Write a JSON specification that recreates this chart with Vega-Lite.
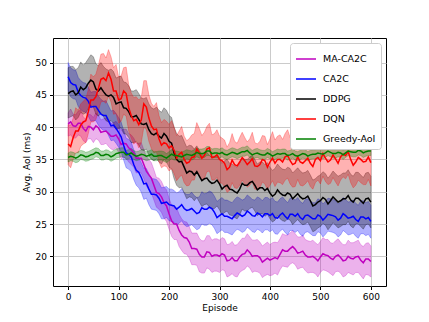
{
"$schema": "https://vega.github.io/schema/vega-lite/v6.json",
"width": 333, "height": 248,
"autosize": {"type": "none"},
"padding": {"left": 53, "top": 38, "right": 43, "bottom": 36},
"background": "white",
"config": {
  "font": "DejaVu Sans",
  "view": {"stroke": "black", "strokeWidth": 1},
  "axis": {"domain": false, "grid": true, "gridColor": "#cbcbcb", "gridWidth": 1, "tickColor": "black", "tickSize": 3.5, "tickWidth": 1, "labelFontSize": 9, "labelColor": "black", "labelPadding": 3, "titleFontSize": 9, "titleFontWeight": "normal", "titleColor": "black"},
  "legend": {"labelFontSize": 9, "labelColor": "black"}
},
"data": {"values": [
{"e":0,"s":"MA-CA2C","m":40.5,"lo":38.6,"hi":42.2},{"e":10,"s":"MA-CA2C","m":40.2,"lo":38.3,"hi":42.0},{"e":20,"s":"MA-CA2C","m":40.6,"lo":38.8,"hi":42.5},{"e":30,"s":"MA-CA2C","m":39.8,"lo":37.9,"hi":41.6},{"e":40,"s":"MA-CA2C","m":40.1,"lo":38.2,"hi":42.0},{"e":50,"s":"MA-CA2C","m":39.6,"lo":37.6,"hi":41.5},{"e":60,"s":"MA-CA2C","m":39.9,"lo":38.0,"hi":41.9},{"e":70,"s":"MA-CA2C","m":39.3,"lo":37.3,"hi":41.3},{"e":80,"s":"MA-CA2C","m":39.0,"lo":37.0,"hi":41.1},{"e":90,"s":"MA-CA2C","m":38.6,"lo":36.5,"hi":40.7},{"e":100,"s":"MA-CA2C","m":38.2,"lo":36.1,"hi":40.4},{"e":110,"s":"MA-CA2C","m":37.5,"lo":35.3,"hi":39.7},{"e":120,"s":"MA-CA2C","m":36.8,"lo":34.6,"hi":39.0},{"e":130,"s":"MA-CA2C","m":36.0,"lo":33.8,"hi":38.3},{"e":140,"s":"MA-CA2C","m":35.2,"lo":33.0,"hi":37.5},{"e":150,"s":"MA-CA2C","m":34.2,"lo":32.0,"hi":36.5},{"e":160,"s":"MA-CA2C","m":32.6,"lo":30.3,"hi":35.0},{"e":170,"s":"MA-CA2C","m":31.0,"lo":28.7,"hi":33.4},{"e":180,"s":"MA-CA2C","m":29.7,"lo":27.3,"hi":32.1},{"e":190,"s":"MA-CA2C","m":28.3,"lo":25.9,"hi":30.7},{"e":200,"s":"MA-CA2C","m":26.6,"lo":24.2,"hi":29.0},{"e":210,"s":"MA-CA2C","m":25.0,"lo":22.6,"hi":27.5},{"e":220,"s":"MA-CA2C","m":24.0,"lo":21.5,"hi":26.5},{"e":230,"s":"MA-CA2C","m":22.9,"lo":20.4,"hi":25.4},{"e":240,"s":"MA-CA2C","m":22.2,"lo":19.7,"hi":24.6},{"e":250,"s":"MA-CA2C","m":21.2,"lo":18.7,"hi":23.6},{"e":260,"s":"MA-CA2C","m":20.3,"lo":17.6,"hi":22.8},{"e":270,"s":"MA-CA2C","m":19.9,"lo":17.4,"hi":22.4},{"e":280,"s":"MA-CA2C","m":20.6,"lo":18.0,"hi":23.2},{"e":290,"s":"MA-CA2C","m":20.2,"lo":17.7,"hi":22.7},{"e":300,"s":"MA-CA2C","m":20.0,"lo":17.5,"hi":22.5},{"e":310,"s":"MA-CA2C","m":20.2,"lo":17.8,"hi":22.7},{"e":320,"s":"MA-CA2C","m":19.4,"lo":17.0,"hi":21.9},{"e":330,"s":"MA-CA2C","m":19.3,"lo":16.9,"hi":21.7},{"e":340,"s":"MA-CA2C","m":19.9,"lo":17.5,"hi":22.3},{"e":350,"s":"MA-CA2C","m":20.4,"lo":18.0,"hi":22.8},{"e":360,"s":"MA-CA2C","m":20.6,"lo":18.2,"hi":23.0},{"e":370,"s":"MA-CA2C","m":20.1,"lo":17.7,"hi":22.5},{"e":380,"s":"MA-CA2C","m":19.8,"lo":17.4,"hi":22.2},{"e":390,"s":"MA-CA2C","m":19.4,"lo":17.0,"hi":21.9},{"e":400,"s":"MA-CA2C","m":19.4,"lo":17.0,"hi":21.8},{"e":410,"s":"MA-CA2C","m":19.8,"lo":17.4,"hi":22.2},{"e":420,"s":"MA-CA2C","m":20.3,"lo":17.9,"hi":22.7},{"e":430,"s":"MA-CA2C","m":20.8,"lo":18.4,"hi":23.3},{"e":440,"s":"MA-CA2C","m":21.2,"lo":18.8,"hi":23.6},{"e":450,"s":"MA-CA2C","m":21.1,"lo":18.7,"hi":23.5},{"e":460,"s":"MA-CA2C","m":20.6,"lo":18.2,"hi":23.0},{"e":470,"s":"MA-CA2C","m":20.2,"lo":17.8,"hi":22.6},{"e":480,"s":"MA-CA2C","m":19.9,"lo":17.5,"hi":22.3},{"e":490,"s":"MA-CA2C","m":19.7,"lo":17.3,"hi":22.1},{"e":500,"s":"MA-CA2C","m":19.9,"lo":17.5,"hi":22.3},{"e":510,"s":"MA-CA2C","m":20.2,"lo":17.8,"hi":22.6},{"e":520,"s":"MA-CA2C","m":19.7,"lo":17.3,"hi":22.1},{"e":530,"s":"MA-CA2C","m":20.0,"lo":17.6,"hi":22.4},{"e":540,"s":"MA-CA2C","m":19.8,"lo":17.4,"hi":22.2},{"e":550,"s":"MA-CA2C","m":19.4,"lo":17.0,"hi":21.8},{"e":560,"s":"MA-CA2C","m":19.7,"lo":17.3,"hi":22.1},{"e":570,"s":"MA-CA2C","m":19.9,"lo":17.5,"hi":22.3},{"e":580,"s":"MA-CA2C","m":19.4,"lo":17.0,"hi":21.8},{"e":590,"s":"MA-CA2C","m":19.6,"lo":17.2,"hi":22.0},{"e":600,"s":"MA-CA2C","m":19.2,"lo":16.8,"hi":21.6},
{"e":5,"s":"MA-CA2C","m":40.8,"lo":38.8,"hi":42.8},{"e":15,"s":"MA-CA2C","m":40.1,"lo":38.3,"hi":41.9},{"e":25,"s":"MA-CA2C","m":40.6,"lo":38.6,"hi":42.6},{"e":35,"s":"MA-CA2C","m":39.4,"lo":37.6,"hi":41.2},{"e":45,"s":"MA-CA2C","m":40.0,"lo":38.2,"hi":41.9},{"e":55,"s":"MA-CA2C","m":40.2,"lo":38.2,"hi":42.2},{"e":65,"s":"MA-CA2C","m":39.2,"lo":37.3,"hi":41.1},{"e":75,"s":"MA-CA2C","m":39.4,"lo":37.5,"hi":41.4},{"e":85,"s":"MA-CA2C","m":38.6,"lo":36.6,"hi":40.6},{"e":95,"s":"MA-CA2C","m":38.8,"lo":36.8,"hi":40.9},{"e":105,"s":"MA-CA2C","m":37.3,"lo":35.1,"hi":39.5},{"e":115,"s":"MA-CA2C","m":37.4,"lo":35.2,"hi":39.7},{"e":125,"s":"MA-CA2C","m":36.5,"lo":34.2,"hi":38.8},{"e":135,"s":"MA-CA2C","m":35.2,"lo":32.9,"hi":37.5},{"e":145,"s":"MA-CA2C","m":35.2,"lo":32.9,"hi":37.6},{"e":155,"s":"MA-CA2C","m":33.2,"lo":30.9,"hi":35.5},{"e":165,"s":"MA-CA2C","m":32.1,"lo":29.8,"hi":34.5},{"e":175,"s":"MA-CA2C","m":29.9,"lo":27.6,"hi":32.2},{"e":185,"s":"MA-CA2C","m":29.2,"lo":26.8,"hi":31.6},{"e":195,"s":"MA-CA2C","m":27.8,"lo":25.4,"hi":30.3},{"e":205,"s":"MA-CA2C","m":25.5,"lo":23.1,"hi":27.9},{"e":215,"s":"MA-CA2C","m":25.0,"lo":22.6,"hi":27.5},{"e":225,"s":"MA-CA2C","m":23.3,"lo":20.9,"hi":25.8},{"e":235,"s":"MA-CA2C","m":22.8,"lo":20.3,"hi":25.3},{"e":245,"s":"MA-CA2C","m":21.2,"lo":18.7,"hi":23.6},{"e":255,"s":"MA-CA2C","m":21.1,"lo":18.6,"hi":23.6},{"e":265,"s":"MA-CA2C","m":19.9,"lo":17.4,"hi":22.4},{"e":275,"s":"MA-CA2C","m":20.7,"lo":18.2,"hi":23.2},{"e":285,"s":"MA-CA2C","m":20.0,"lo":17.5,"hi":22.5},{"e":295,"s":"MA-CA2C","m":20.2,"lo":17.7,"hi":22.7},{"e":305,"s":"MA-CA2C","m":20.4,"lo":17.9,"hi":22.9},{"e":315,"s":"MA-CA2C","m":19.3,"lo":16.8,"hi":21.8},{"e":325,"s":"MA-CA2C","m":19.8,"lo":17.3,"hi":22.3},{"e":335,"s":"MA-CA2C","m":19.3,"lo":16.8,"hi":21.8},{"e":345,"s":"MA-CA2C","m":20.3,"lo":17.8,"hi":22.8},{"e":355,"s":"MA-CA2C","m":21.0,"lo":18.5,"hi":23.5},{"e":365,"s":"MA-CA2C","m":20.0,"lo":17.5,"hi":22.5},{"e":375,"s":"MA-CA2C","m":20.1,"lo":17.6,"hi":22.6},{"e":385,"s":"MA-CA2C","m":19.1,"lo":16.7,"hi":21.6},{"e":395,"s":"MA-CA2C","m":19.7,"lo":17.2,"hi":22.2},{"e":405,"s":"MA-CA2C","m":19.6,"lo":17.1,"hi":22.1},{"e":415,"s":"MA-CA2C","m":19.6,"lo":17.1,"hi":22.1},{"e":425,"s":"MA-CA2C","m":21.0,"lo":18.5,"hi":23.5},{"e":435,"s":"MA-CA2C","m":20.8,"lo":18.3,"hi":23.3},{"e":445,"s":"MA-CA2C","m":21.5,"lo":19.0,"hi":24.0},{"e":455,"s":"MA-CA2C","m":20.5,"lo":18.0,"hi":23.0},{"e":465,"s":"MA-CA2C","m":20.8,"lo":18.3,"hi":23.3},{"e":475,"s":"MA-CA2C","m":19.9,"lo":17.4,"hi":22.4},{"e":485,"s":"MA-CA2C","m":20.0,"lo":17.5,"hi":22.5},{"e":495,"s":"MA-CA2C","m":19.3,"lo":16.8,"hi":21.8},{"e":505,"s":"MA-CA2C","m":20.4,"lo":17.9,"hi":22.9},{"e":515,"s":"MA-CA2C","m":20.1,"lo":17.6,"hi":22.6},{"e":525,"s":"MA-CA2C","m":19.5,"lo":17.0,"hi":22.0},{"e":535,"s":"MA-CA2C","m":20.2,"lo":17.7,"hi":22.7},{"e":545,"s":"MA-CA2C","m":19.3,"lo":16.8,"hi":21.8},{"e":555,"s":"MA-CA2C","m":20.0,"lo":17.5,"hi":22.5},{"e":565,"s":"MA-CA2C","m":19.6,"lo":17.1,"hi":22.1},{"e":575,"s":"MA-CA2C","m":20.0,"lo":17.5,"hi":22.5},{"e":585,"s":"MA-CA2C","m":19.0,"lo":16.5,"hi":21.5},{"e":595,"s":"MA-CA2C","m":19.6,"lo":17.1,"hi":22.1},
{"e":0,"s":"CA2C","m":47.8,"lo":45.6,"hi":50.0},{"e":10,"s":"CA2C","m":46.6,"lo":44.4,"hi":48.9},{"e":20,"s":"CA2C","m":45.4,"lo":43.2,"hi":47.7},{"e":30,"s":"CA2C","m":44.6,"lo":42.4,"hi":46.9},{"e":40,"s":"CA2C","m":44.0,"lo":41.7,"hi":46.2},{"e":50,"s":"CA2C","m":43.2,"lo":41.0,"hi":45.5},{"e":60,"s":"CA2C","m":42.6,"lo":40.3,"hi":44.8},{"e":70,"s":"CA2C","m":41.8,"lo":39.5,"hi":44.0},{"e":80,"s":"CA2C","m":41.0,"lo":38.7,"hi":43.3},{"e":90,"s":"CA2C","m":40.3,"lo":38.0,"hi":42.6},{"e":100,"s":"CA2C","m":39.2,"lo":36.9,"hi":41.5},{"e":110,"s":"CA2C","m":37.2,"lo":34.9,"hi":39.5},{"e":120,"s":"CA2C","m":35.8,"lo":33.5,"hi":38.1},{"e":130,"s":"CA2C","m":34.2,"lo":31.9,"hi":36.5},{"e":140,"s":"CA2C","m":33.0,"lo":30.6,"hi":35.3},{"e":150,"s":"CA2C","m":31.2,"lo":28.8,"hi":33.6},{"e":160,"s":"CA2C","m":30.4,"lo":28.0,"hi":32.8},{"e":170,"s":"CA2C","m":29.6,"lo":27.2,"hi":32.0},{"e":180,"s":"CA2C","m":29.0,"lo":26.6,"hi":31.4},{"e":190,"s":"CA2C","m":28.3,"lo":25.8,"hi":30.7},{"e":200,"s":"CA2C","m":28.0,"lo":25.5,"hi":30.4},{"e":210,"s":"CA2C","m":27.8,"lo":25.3,"hi":30.2},{"e":220,"s":"CA2C","m":27.6,"lo":25.1,"hi":30.0},{"e":230,"s":"CA2C","m":27.4,"lo":24.9,"hi":29.8},{"e":240,"s":"CA2C","m":27.2,"lo":24.7,"hi":29.6},{"e":250,"s":"CA2C","m":27.0,"lo":24.5,"hi":29.4},{"e":260,"s":"CA2C","m":26.8,"lo":24.3,"hi":29.2},{"e":270,"s":"CA2C","m":27.3,"lo":24.8,"hi":29.7},{"e":280,"s":"CA2C","m":27.6,"lo":25.1,"hi":30.1},{"e":290,"s":"CA2C","m":26.8,"lo":24.3,"hi":29.3},{"e":300,"s":"CA2C","m":26.3,"lo":23.8,"hi":28.8},{"e":310,"s":"CA2C","m":26.2,"lo":23.7,"hi":28.7},{"e":320,"s":"CA2C","m":26.0,"lo":23.5,"hi":28.5},{"e":330,"s":"CA2C","m":26.3,"lo":23.8,"hi":28.8},{"e":340,"s":"CA2C","m":26.5,"lo":24.0,"hi":29.0},{"e":350,"s":"CA2C","m":26.4,"lo":23.9,"hi":28.9},{"e":360,"s":"CA2C","m":26.7,"lo":24.2,"hi":29.2},{"e":370,"s":"CA2C","m":26.2,"lo":23.7,"hi":28.7},{"e":380,"s":"CA2C","m":26.5,"lo":24.0,"hi":29.0},{"e":390,"s":"CA2C","m":26.6,"lo":24.1,"hi":29.1},{"e":400,"s":"CA2C","m":26.3,"lo":23.8,"hi":28.8},{"e":410,"s":"CA2C","m":26.0,"lo":23.5,"hi":28.5},{"e":420,"s":"CA2C","m":26.4,"lo":23.9,"hi":28.9},{"e":430,"s":"CA2C","m":26.2,"lo":23.7,"hi":28.7},{"e":440,"s":"CA2C","m":26.5,"lo":24.0,"hi":29.0},{"e":450,"s":"CA2C","m":26.2,"lo":23.7,"hi":28.7},{"e":460,"s":"CA2C","m":26.0,"lo":23.4,"hi":28.5},{"e":470,"s":"CA2C","m":26.3,"lo":23.7,"hi":28.8},{"e":480,"s":"CA2C","m":26.1,"lo":23.5,"hi":28.6},{"e":490,"s":"CA2C","m":25.8,"lo":23.2,"hi":28.3},{"e":500,"s":"CA2C","m":26.2,"lo":23.6,"hi":28.7},{"e":510,"s":"CA2C","m":26.0,"lo":23.4,"hi":28.5},{"e":520,"s":"CA2C","m":26.4,"lo":23.8,"hi":28.9},{"e":530,"s":"CA2C","m":26.1,"lo":23.5,"hi":28.6},{"e":540,"s":"CA2C","m":25.9,"lo":23.3,"hi":28.4},{"e":550,"s":"CA2C","m":26.3,"lo":23.7,"hi":28.8},{"e":560,"s":"CA2C","m":26.0,"lo":23.4,"hi":28.5},{"e":570,"s":"CA2C","m":25.7,"lo":23.1,"hi":28.2},{"e":580,"s":"CA2C","m":26.1,"lo":23.5,"hi":28.6},{"e":590,"s":"CA2C","m":25.8,"lo":23.2,"hi":28.3},{"e":600,"s":"CA2C","m":25.4,"lo":22.8,"hi":27.9},
{"e":5,"s":"CA2C","m":46.9,"lo":44.7,"hi":49.2},{"e":15,"s":"CA2C","m":46.5,"lo":44.3,"hi":48.8},{"e":25,"s":"CA2C","m":44.9,"lo":42.7,"hi":47.2},{"e":35,"s":"CA2C","m":44.5,"lo":42.3,"hi":46.8},{"e":45,"s":"CA2C","m":43.1,"lo":40.9,"hi":45.4},{"e":55,"s":"CA2C","m":43.2,"lo":41.0,"hi":45.5},{"e":65,"s":"CA2C","m":42.0,"lo":39.8,"hi":44.3},{"e":75,"s":"CA2C","m":41.8,"lo":39.5,"hi":44.1},{"e":85,"s":"CA2C","m":40.2,"lo":37.9,"hi":42.5},{"e":95,"s":"CA2C","m":39.8,"lo":37.5,"hi":42.1},{"e":105,"s":"CA2C","m":38.5,"lo":36.2,"hi":40.8},{"e":115,"s":"CA2C","m":36.0,"lo":33.7,"hi":38.3},{"e":125,"s":"CA2C","m":35.4,"lo":33.1,"hi":37.7},{"e":135,"s":"CA2C","m":33.3,"lo":31.0,"hi":35.6},{"e":145,"s":"CA2C","m":32.2,"lo":29.9,"hi":34.5},{"e":155,"s":"CA2C","m":31.3,"lo":29.0,"hi":33.6},{"e":165,"s":"CA2C","m":29.6,"lo":27.3,"hi":32.0},{"e":175,"s":"CA2C","m":29.5,"lo":27.1,"hi":31.9},{"e":185,"s":"CA2C","m":28.2,"lo":25.8,"hi":30.6},{"e":195,"s":"CA2C","m":28.4,"lo":26.0,"hi":30.8},{"e":205,"s":"CA2C","m":27.9,"lo":25.4,"hi":30.4},{"e":215,"s":"CA2C","m":27.3,"lo":24.8,"hi":29.8},{"e":225,"s":"CA2C","m":28.0,"lo":25.5,"hi":30.5},{"e":235,"s":"CA2C","m":27.1,"lo":24.6,"hi":29.6},{"e":245,"s":"CA2C","m":27.4,"lo":24.9,"hi":29.9},{"e":255,"s":"CA2C","m":26.6,"lo":24.1,"hi":29.1},{"e":265,"s":"CA2C","m":27.5,"lo":25.0,"hi":30.0},{"e":275,"s":"CA2C","m":27.3,"lo":24.8,"hi":29.8},{"e":285,"s":"CA2C","m":27.4,"lo":24.9,"hi":29.9},{"e":295,"s":"CA2C","m":26.0,"lo":23.5,"hi":28.5},{"e":305,"s":"CA2C","m":26.6,"lo":24.1,"hi":29.1},{"e":315,"s":"CA2C","m":26.2,"lo":23.7,"hi":28.7},{"e":325,"s":"CA2C","m":25.8,"lo":23.3,"hi":28.3},{"e":335,"s":"CA2C","m":26.7,"lo":24.2,"hi":29.2},{"e":345,"s":"CA2C","m":26.2,"lo":23.7,"hi":28.7},{"e":355,"s":"CA2C","m":27.0,"lo":24.5,"hi":29.5},{"e":365,"s":"CA2C","m":26.3,"lo":23.8,"hi":28.8},{"e":375,"s":"CA2C","m":26.7,"lo":24.2,"hi":29.2},{"e":385,"s":"CA2C","m":26.1,"lo":23.6,"hi":28.6},{"e":395,"s":"CA2C","m":26.6,"lo":24.1,"hi":29.1},{"e":405,"s":"CA2C","m":26.6,"lo":24.1,"hi":29.1},{"e":415,"s":"CA2C","m":25.9,"lo":23.4,"hi":28.4},{"e":425,"s":"CA2C","m":26.7,"lo":24.2,"hi":29.2},{"e":435,"s":"CA2C","m":25.8,"lo":23.3,"hi":28.3},{"e":445,"s":"CA2C","m":26.5,"lo":24.0,"hi":29.0},{"e":455,"s":"CA2C","m":26.6,"lo":24.0,"hi":29.1},{"e":465,"s":"CA2C","m":25.7,"lo":23.1,"hi":28.2},{"e":475,"s":"CA2C","m":26.4,"lo":23.8,"hi":28.9},{"e":485,"s":"CA2C","m":25.8,"lo":23.2,"hi":28.3},{"e":495,"s":"CA2C","m":26.4,"lo":23.8,"hi":28.9},{"e":505,"s":"CA2C","m":25.6,"lo":23.0,"hi":28.1},{"e":515,"s":"CA2C","m":26.5,"lo":23.9,"hi":29.0},{"e":525,"s":"CA2C","m":26.3,"lo":23.7,"hi":28.8},{"e":535,"s":"CA2C","m":25.6,"lo":23.0,"hi":28.1},{"e":545,"s":"CA2C","m":26.6,"lo":24.0,"hi":29.1},{"e":555,"s":"CA2C","m":25.9,"lo":23.3,"hi":28.4},{"e":565,"s":"CA2C","m":26.2,"lo":23.6,"hi":28.7},{"e":575,"s":"CA2C","m":25.4,"lo":22.8,"hi":27.9},{"e":585,"s":"CA2C","m":26.1,"lo":23.5,"hi":28.6},{"e":595,"s":"CA2C","m":26.0,"lo":23.4,"hi":28.5},
{"e":0,"s":"DDPG","m":45.2,"lo":41.4,"hi":49.2},{"e":10,"s":"DDPG","m":45.6,"lo":41.8,"hi":49.4},{"e":20,"s":"DDPG","m":45.3,"lo":41.5,"hi":49.2},{"e":30,"s":"DDPG","m":45.8,"lo":42.0,"hi":49.6},{"e":40,"s":"DDPG","m":46.8,"lo":42.9,"hi":50.6},{"e":50,"s":"DDPG","m":47.0,"lo":43.1,"hi":50.9},{"e":60,"s":"DDPG","m":45.6,"lo":41.7,"hi":49.5},{"e":70,"s":"DDPG","m":45.5,"lo":41.6,"hi":49.4},{"e":80,"s":"DDPG","m":44.8,"lo":40.8,"hi":48.8},{"e":90,"s":"DDPG","m":44.6,"lo":40.6,"hi":48.6},{"e":100,"s":"DDPG","m":43.8,"lo":39.8,"hi":47.8},{"e":110,"s":"DDPG","m":43.0,"lo":39.0,"hi":47.0},{"e":120,"s":"DDPG","m":42.4,"lo":38.4,"hi":46.4},{"e":130,"s":"DDPG","m":41.6,"lo":37.6,"hi":45.6},{"e":140,"s":"DDPG","m":41.2,"lo":37.2,"hi":45.2},{"e":150,"s":"DDPG","m":40.4,"lo":36.4,"hi":44.4},{"e":160,"s":"DDPG","m":39.6,"lo":35.6,"hi":43.6},{"e":170,"s":"DDPG","m":38.8,"lo":34.8,"hi":42.8},{"e":180,"s":"DDPG","m":38.6,"lo":34.6,"hi":42.6},{"e":190,"s":"DDPG","m":39.0,"lo":35.0,"hi":43.0},{"e":200,"s":"DDPG","m":37.8,"lo":33.8,"hi":41.8},{"e":210,"s":"DDPG","m":36.0,"lo":32.0,"hi":40.0},{"e":220,"s":"DDPG","m":34.6,"lo":30.6,"hi":38.6},{"e":230,"s":"DDPG","m":33.8,"lo":29.8,"hi":37.8},{"e":240,"s":"DDPG","m":33.2,"lo":29.2,"hi":37.2},{"e":250,"s":"DDPG","m":32.6,"lo":28.6,"hi":36.6},{"e":260,"s":"DDPG","m":32.4,"lo":28.4,"hi":36.4},{"e":270,"s":"DDPG","m":32.0,"lo":28.0,"hi":36.0},{"e":280,"s":"DDPG","m":31.6,"lo":27.6,"hi":35.6},{"e":290,"s":"DDPG","m":31.4,"lo":27.4,"hi":35.4},{"e":300,"s":"DDPG","m":31.2,"lo":27.2,"hi":35.2},{"e":310,"s":"DDPG","m":30.8,"lo":26.8,"hi":34.8},{"e":320,"s":"DDPG","m":30.4,"lo":26.4,"hi":34.4},{"e":330,"s":"DDPG","m":30.0,"lo":26.0,"hi":34.0},{"e":340,"s":"DDPG","m":30.4,"lo":26.4,"hi":34.4},{"e":350,"s":"DDPG","m":31.0,"lo":27.0,"hi":35.0},{"e":360,"s":"DDPG","m":31.4,"lo":27.4,"hi":35.4},{"e":370,"s":"DDPG","m":31.0,"lo":27.0,"hi":35.0},{"e":380,"s":"DDPG","m":30.6,"lo":26.6,"hi":34.6},{"e":390,"s":"DDPG","m":30.2,"lo":26.2,"hi":34.2},{"e":400,"s":"DDPG","m":29.8,"lo":25.8,"hi":33.8},{"e":410,"s":"DDPG","m":29.6,"lo":25.6,"hi":33.6},{"e":420,"s":"DDPG","m":29.8,"lo":25.8,"hi":33.8},{"e":430,"s":"DDPG","m":29.4,"lo":25.4,"hi":33.4},{"e":440,"s":"DDPG","m":29.6,"lo":25.6,"hi":33.6},{"e":450,"s":"DDPG","m":29.3,"lo":25.3,"hi":33.3},{"e":460,"s":"DDPG","m":29.2,"lo":25.2,"hi":33.2},{"e":470,"s":"DDPG","m":29.0,"lo":25.0,"hi":33.0},{"e":480,"s":"DDPG","m":28.6,"lo":24.6,"hi":32.6},{"e":490,"s":"DDPG","m":28.0,"lo":24.0,"hi":32.0},{"e":500,"s":"DDPG","m":28.6,"lo":24.6,"hi":32.6},{"e":510,"s":"DDPG","m":28.8,"lo":24.8,"hi":32.8},{"e":520,"s":"DDPG","m":28.6,"lo":24.6,"hi":32.6},{"e":530,"s":"DDPG","m":28.8,"lo":24.8,"hi":32.8},{"e":540,"s":"DDPG","m":28.6,"lo":24.6,"hi":32.6},{"e":550,"s":"DDPG","m":28.9,"lo":24.9,"hi":32.9},{"e":560,"s":"DDPG","m":28.7,"lo":24.7,"hi":32.7},{"e":570,"s":"DDPG","m":29.0,"lo":25.0,"hi":33.0},{"e":580,"s":"DDPG","m":28.6,"lo":24.6,"hi":32.6},{"e":590,"s":"DDPG","m":28.9,"lo":24.9,"hi":32.9},{"e":600,"s":"DDPG","m":28.4,"lo":24.4,"hi":32.4},
{"e":5,"s":"DDPG","m":45.5,"lo":41.6,"hi":49.4},{"e":15,"s":"DDPG","m":45.0,"lo":41.1,"hi":48.9},{"e":25,"s":"DDPG","m":46.2,"lo":42.3,"hi":50.1},{"e":35,"s":"DDPG","m":46.1,"lo":42.2,"hi":50.0},{"e":45,"s":"DDPG","m":47.3,"lo":43.4,"hi":51.2},{"e":55,"s":"DDPG","m":45.9,"lo":42.0,"hi":49.8},{"e":65,"s":"DDPG","m":46.1,"lo":42.2,"hi":50.0},{"e":75,"s":"DDPG","m":45.0,"lo":41.0,"hi":49.0},{"e":85,"s":"DDPG","m":45.0,"lo":41.0,"hi":49.0},{"e":95,"s":"DDPG","m":43.6,"lo":39.6,"hi":47.6},{"e":105,"s":"DDPG","m":43.9,"lo":39.9,"hi":47.9},{"e":115,"s":"DDPG","m":42.9,"lo":38.9,"hi":46.9},{"e":125,"s":"DDPG","m":41.6,"lo":37.6,"hi":45.6},{"e":135,"s":"DDPG","m":41.8,"lo":37.8,"hi":45.8},{"e":145,"s":"DDPG","m":40.5,"lo":36.5,"hi":44.5},{"e":155,"s":"DDPG","m":40.6,"lo":36.6,"hi":44.6},{"e":165,"s":"DDPG","m":39.0,"lo":35.0,"hi":43.0},{"e":175,"s":"DDPG","m":39.1,"lo":35.1,"hi":43.1},{"e":185,"s":"DDPG","m":38.3,"lo":34.3,"hi":42.3},{"e":195,"s":"DDPG","m":38.6,"lo":34.6,"hi":42.6},{"e":205,"s":"DDPG","m":37.5,"lo":33.5,"hi":41.5},{"e":215,"s":"DDPG","m":35.0,"lo":31.0,"hi":39.0},{"e":225,"s":"DDPG","m":34.7,"lo":30.7,"hi":38.7},{"e":235,"s":"DDPG","m":32.9,"lo":28.9,"hi":36.9},{"e":245,"s":"DDPG","m":33.1,"lo":29.1,"hi":37.1},{"e":255,"s":"DDPG","m":33.1,"lo":29.1,"hi":37.1},{"e":265,"s":"DDPG","m":31.7,"lo":27.7,"hi":35.7},{"e":275,"s":"DDPG","m":32.1,"lo":28.1,"hi":36.1},{"e":285,"s":"DDPG","m":31.3,"lo":27.3,"hi":35.3},{"e":295,"s":"DDPG","m":31.8,"lo":27.8,"hi":35.8},{"e":305,"s":"DDPG","m":30.4,"lo":26.4,"hi":34.4},{"e":315,"s":"DDPG","m":31.0,"lo":27.0,"hi":35.0},{"e":325,"s":"DDPG","m":30.3,"lo":26.3,"hi":34.3},{"e":335,"s":"DDPG","m":29.8,"lo":25.8,"hi":33.8},{"e":345,"s":"DDPG","m":31.3,"lo":27.3,"hi":35.3},{"e":355,"s":"DDPG","m":31.0,"lo":27.0,"hi":35.0},{"e":365,"s":"DDPG","m":31.6,"lo":27.6,"hi":35.6},{"e":375,"s":"DDPG","m":30.3,"lo":26.3,"hi":34.3},{"e":385,"s":"DDPG","m":30.6,"lo":26.6,"hi":34.6},{"e":395,"s":"DDPG","m":30.5,"lo":26.5,"hi":34.5},{"e":405,"s":"DDPG","m":29.3,"lo":25.3,"hi":33.3},{"e":415,"s":"DDPG","m":30.3,"lo":26.3,"hi":34.3},{"e":425,"s":"DDPG","m":29.5,"lo":25.5,"hi":33.5},{"e":435,"s":"DDPG","m":29.8,"lo":25.8,"hi":33.8},{"e":445,"s":"DDPG","m":28.9,"lo":24.9,"hi":32.9},{"e":455,"s":"DDPG","m":29.7,"lo":25.7,"hi":33.7},{"e":465,"s":"DDPG","m":28.9,"lo":24.9,"hi":32.9},{"e":475,"s":"DDPG","m":29.3,"lo":25.3,"hi":33.3},{"e":485,"s":"DDPG","m":27.8,"lo":23.8,"hi":31.8},{"e":495,"s":"DDPG","m":28.4,"lo":24.4,"hi":32.4},{"e":505,"s":"DDPG","m":29.1,"lo":25.1,"hi":33.1},{"e":515,"s":"DDPG","m":28.1,"lo":24.1,"hi":32.1},{"e":525,"s":"DDPG","m":29.2,"lo":25.2,"hi":33.2},{"e":535,"s":"DDPG","m":28.4,"lo":24.4,"hi":32.4},{"e":545,"s":"DDPG","m":28.9,"lo":24.9,"hi":32.9},{"e":555,"s":"DDPG","m":29.4,"lo":25.4,"hi":33.4},{"e":565,"s":"DDPG","m":28.4,"lo":24.4,"hi":32.4},{"e":575,"s":"DDPG","m":29.0,"lo":25.0,"hi":33.0},{"e":585,"s":"DDPG","m":28.2,"lo":24.2,"hi":32.2},{"e":595,"s":"DDPG","m":29.0,"lo":25.0,"hi":33.0},
{"e":0,"s":"DQN","m":37.4,"lo":34.2,"hi":40.4},{"e":10,"s":"DQN","m":38.4,"lo":35.0,"hi":41.4},{"e":20,"s":"DQN","m":39.4,"lo":36.0,"hi":42.6},{"e":30,"s":"DQN","m":40.8,"lo":37.4,"hi":44.0},{"e":40,"s":"DQN","m":42.4,"lo":39.0,"hi":45.8},{"e":50,"s":"DQN","m":44.2,"lo":40.8,"hi":47.8},{"e":60,"s":"DQN","m":46.0,"lo":42.5,"hi":49.6},{"e":70,"s":"DQN","m":47.6,"lo":44.0,"hi":51.4},{"e":80,"s":"DQN","m":48.4,"lo":44.8,"hi":52.0},{"e":90,"s":"DQN","m":45.6,"lo":42.0,"hi":49.2},{"e":100,"s":"DQN","m":44.2,"lo":40.6,"hi":47.8},{"e":110,"s":"DQN","m":45.6,"lo":42.0,"hi":49.2},{"e":120,"s":"DQN","m":43.0,"lo":39.4,"hi":46.6},{"e":130,"s":"DQN","m":41.0,"lo":37.4,"hi":44.6},{"e":140,"s":"DQN","m":40.4,"lo":36.8,"hi":44.2},{"e":150,"s":"DQN","m":43.6,"lo":40.0,"hi":47.2},{"e":160,"s":"DQN","m":41.4,"lo":37.8,"hi":45.0},{"e":170,"s":"DQN","m":39.6,"lo":36.0,"hi":43.2},{"e":180,"s":"DQN","m":38.2,"lo":34.6,"hi":41.8},{"e":190,"s":"DQN","m":37.6,"lo":34.0,"hi":41.2},{"e":200,"s":"DQN","m":36.8,"lo":33.2,"hi":40.4},{"e":210,"s":"DQN","m":36.4,"lo":32.8,"hi":40.0},{"e":220,"s":"DQN","m":35.8,"lo":32.2,"hi":39.4},{"e":230,"s":"DQN","m":35.0,"lo":31.4,"hi":38.6},{"e":240,"s":"DQN","m":34.6,"lo":31.0,"hi":38.2},{"e":250,"s":"DQN","m":35.4,"lo":31.8,"hi":39.0},{"e":260,"s":"DQN","m":36.0,"lo":32.4,"hi":39.8},{"e":270,"s":"DQN","m":35.6,"lo":32.0,"hi":39.2},{"e":280,"s":"DQN","m":36.8,"lo":33.2,"hi":40.6},{"e":290,"s":"DQN","m":35.4,"lo":31.8,"hi":39.0},{"e":300,"s":"DQN","m":35.0,"lo":31.4,"hi":38.6},{"e":310,"s":"DQN","m":34.4,"lo":30.8,"hi":38.0},{"e":320,"s":"DQN","m":33.8,"lo":30.2,"hi":37.6},{"e":330,"s":"DQN","m":34.2,"lo":30.6,"hi":37.8},{"e":340,"s":"DQN","m":34.6,"lo":31.0,"hi":38.4},{"e":350,"s":"DQN","m":34.8,"lo":31.2,"hi":38.4},{"e":360,"s":"DQN","m":34.6,"lo":31.0,"hi":38.2},{"e":370,"s":"DQN","m":34.0,"lo":30.4,"hi":37.6},{"e":380,"s":"DQN","m":34.2,"lo":30.6,"hi":37.8},{"e":390,"s":"DQN","m":34.8,"lo":31.2,"hi":38.6},{"e":400,"s":"DQN","m":34.6,"lo":31.0,"hi":38.2},{"e":410,"s":"DQN","m":34.4,"lo":30.8,"hi":38.0},{"e":420,"s":"DQN","m":35.0,"lo":31.4,"hi":38.8},{"e":430,"s":"DQN","m":35.4,"lo":31.8,"hi":39.0},{"e":440,"s":"DQN","m":34.8,"lo":31.2,"hi":38.4},{"e":450,"s":"DQN","m":34.4,"lo":30.8,"hi":38.0},{"e":460,"s":"DQN","m":34.6,"lo":31.0,"hi":38.2},{"e":470,"s":"DQN","m":34.8,"lo":31.2,"hi":38.6},{"e":480,"s":"DQN","m":34.4,"lo":30.8,"hi":38.0},{"e":490,"s":"DQN","m":35.0,"lo":31.4,"hi":38.6},{"e":500,"s":"DQN","m":34.8,"lo":31.2,"hi":38.4},{"e":510,"s":"DQN","m":35.2,"lo":31.6,"hi":38.8},{"e":520,"s":"DQN","m":34.9,"lo":31.3,"hi":38.6},{"e":530,"s":"DQN","m":35.1,"lo":31.5,"hi":38.7},{"e":540,"s":"DQN","m":35.4,"lo":31.8,"hi":39.0},{"e":550,"s":"DQN","m":35.6,"lo":32.0,"hi":39.2},{"e":560,"s":"DQN","m":35.0,"lo":31.4,"hi":38.6},{"e":570,"s":"DQN","m":34.6,"lo":31.0,"hi":38.2},{"e":580,"s":"DQN","m":35.0,"lo":31.4,"hi":38.6},{"e":590,"s":"DQN","m":34.7,"lo":31.1,"hi":38.3},{"e":600,"s":"DQN","m":34.5,"lo":30.9,"hi":38.1},
{"e":5,"s":"DQN","m":37.0,"lo":33.7,"hi":40.3},{"e":15,"s":"DQN","m":39.4,"lo":36.1,"hi":43.0},{"e":25,"s":"DQN","m":40.3,"lo":37.0,"hi":43.6},{"e":35,"s":"DQN","m":41.0,"lo":37.6,"hi":44.4},{"e":45,"s":"DQN","m":44.2,"lo":40.8,"hi":48.2},{"e":55,"s":"DQN","m":44.7,"lo":41.2,"hi":48.2},{"e":65,"s":"DQN","m":47.4,"lo":43.9,"hi":51.3},{"e":75,"s":"DQN","m":47.2,"lo":43.7,"hi":50.7},{"e":85,"s":"DQN","m":47.4,"lo":43.9,"hi":50.9},{"e":95,"s":"DQN","m":45.6,"lo":42.1,"hi":49.7},{"e":105,"s":"DQN","m":44.4,"lo":40.9,"hi":47.9},{"e":115,"s":"DQN","m":45.2,"lo":41.7,"hi":49.3},{"e":125,"s":"DQN","m":41.8,"lo":38.3,"hi":45.3},{"e":135,"s":"DQN","m":41.2,"lo":37.7,"hi":44.7},{"e":145,"s":"DQN","m":41.1,"lo":37.6,"hi":44.6},{"e":155,"s":"DQN","m":43.1,"lo":39.6,"hi":47.2},{"e":165,"s":"DQN","m":40.2,"lo":36.7,"hi":43.7},{"e":175,"s":"DQN","m":39.7,"lo":36.2,"hi":43.8},{"e":185,"s":"DQN","m":37.2,"lo":33.7,"hi":40.7},{"e":195,"s":"DQN","m":37.4,"lo":33.9,"hi":40.9},{"e":205,"s":"DQN","m":37.1,"lo":33.6,"hi":41.0},{"e":215,"s":"DQN","m":35.2,"lo":31.7,"hi":38.7},{"e":225,"s":"DQN","m":36.1,"lo":32.6,"hi":40.1},{"e":235,"s":"DQN","m":34.4,"lo":30.9,"hi":37.9},{"e":245,"s":"DQN","m":35.3,"lo":31.8,"hi":38.8},{"e":255,"s":"DQN","m":36.6,"lo":33.1,"hi":40.7},{"e":265,"s":"DQN","m":35.2,"lo":31.7,"hi":38.7},{"e":275,"s":"DQN","m":36.6,"lo":33.1,"hi":40.1},{"e":285,"s":"DQN","m":35.3,"lo":31.8,"hi":38.8},{"e":295,"s":"DQN","m":35.7,"lo":32.2,"hi":39.6},{"e":305,"s":"DQN","m":34.8,"lo":31.3,"hi":38.3},{"e":315,"s":"DQN","m":33.4,"lo":29.9,"hi":36.9},{"e":325,"s":"DQN","m":34.9,"lo":31.4,"hi":39.0},{"e":335,"s":"DQN","m":34.0,"lo":30.5,"hi":37.5},{"e":345,"s":"DQN","m":35.3,"lo":31.8,"hi":39.2},{"e":355,"s":"DQN","m":34.2,"lo":30.7,"hi":37.7},{"e":365,"s":"DQN","m":35.1,"lo":31.6,"hi":39.2},{"e":375,"s":"DQN","m":33.9,"lo":30.4,"hi":37.4},{"e":385,"s":"DQN","m":35.0,"lo":31.5,"hi":38.7},{"e":395,"s":"DQN","m":33.8,"lo":30.3,"hi":37.3},{"e":405,"s":"DQN","m":35.2,"lo":31.7,"hi":39.3},{"e":415,"s":"DQN","m":35.0,"lo":31.5,"hi":38.6},{"e":425,"s":"DQN","m":34.6,"lo":31.1,"hi":38.1},{"e":435,"s":"DQN","m":35.6,"lo":32.1,"hi":39.6},{"e":445,"s":"DQN","m":34.2,"lo":30.7,"hi":37.7},{"e":455,"s":"DQN","m":35.4,"lo":31.9,"hi":39.5},{"e":465,"s":"DQN","m":34.4,"lo":30.9,"hi":37.9},{"e":475,"s":"DQN","m":35.2,"lo":31.7,"hi":39.2},{"e":485,"s":"DQN","m":33.9,"lo":30.4,"hi":37.4},{"e":495,"s":"DQN","m":35.3,"lo":31.8,"hi":39.0},{"e":505,"s":"DQN","m":35.9,"lo":32.4,"hi":40.0},{"e":515,"s":"DQN","m":34.6,"lo":31.1,"hi":38.1},{"e":525,"s":"DQN","m":35.7,"lo":32.2,"hi":39.6},{"e":535,"s":"DQN","m":34.4,"lo":30.9,"hi":37.9},{"e":545,"s":"DQN","m":35.8,"lo":32.3,"hi":39.4},{"e":555,"s":"DQN","m":36.2,"lo":32.7,"hi":40.1},{"e":565,"s":"DQN","m":34.1,"lo":30.6,"hi":37.6},{"e":575,"s":"DQN","m":35.3,"lo":31.8,"hi":39.2},{"e":585,"s":"DQN","m":34.6,"lo":31.1,"hi":38.1},{"e":595,"s":"DQN","m":35.4,"lo":31.9,"hi":39.3},
{"e":0,"s":"Greedy-AoI","m":35.3,"lo":34.6,"hi":36.0},{"e":10,"s":"Greedy-AoI","m":35.4,"lo":34.7,"hi":36.1},{"e":20,"s":"Greedy-AoI","m":35.4,"lo":34.6,"hi":36.2},{"e":30,"s":"Greedy-AoI","m":35.6,"lo":34.9,"hi":36.3},{"e":40,"s":"Greedy-AoI","m":35.5,"lo":34.8,"hi":36.2},{"e":50,"s":"Greedy-AoI","m":35.8,"lo":35.1,"hi":36.6},{"e":60,"s":"Greedy-AoI","m":36.0,"lo":35.3,"hi":36.7},{"e":70,"s":"Greedy-AoI","m":35.6,"lo":34.9,"hi":36.3},{"e":80,"s":"Greedy-AoI","m":35.7,"lo":35.0,"hi":36.4},{"e":90,"s":"Greedy-AoI","m":35.6,"lo":34.9,"hi":36.4},{"e":100,"s":"Greedy-AoI","m":36.0,"lo":35.3,"hi":36.7},{"e":110,"s":"Greedy-AoI","m":36.1,"lo":35.4,"hi":36.8},{"e":120,"s":"Greedy-AoI","m":35.8,"lo":35.1,"hi":36.5},{"e":130,"s":"Greedy-AoI","m":35.7,"lo":35.0,"hi":36.4},{"e":140,"s":"Greedy-AoI","m":35.6,"lo":34.9,"hi":36.3},{"e":150,"s":"Greedy-AoI","m":35.7,"lo":35.0,"hi":36.5},{"e":160,"s":"Greedy-AoI","m":35.6,"lo":34.9,"hi":36.3},{"e":170,"s":"Greedy-AoI","m":35.5,"lo":34.8,"hi":36.2},{"e":180,"s":"Greedy-AoI","m":35.6,"lo":34.9,"hi":36.3},{"e":190,"s":"Greedy-AoI","m":35.4,"lo":34.7,"hi":36.2},{"e":200,"s":"Greedy-AoI","m":35.5,"lo":34.8,"hi":36.2},{"e":210,"s":"Greedy-AoI","m":35.6,"lo":34.9,"hi":36.3},{"e":220,"s":"Greedy-AoI","m":35.5,"lo":34.8,"hi":36.2},{"e":230,"s":"Greedy-AoI","m":35.6,"lo":34.9,"hi":36.3},{"e":240,"s":"Greedy-AoI","m":35.7,"lo":35.0,"hi":36.4},{"e":250,"s":"Greedy-AoI","m":35.8,"lo":35.1,"hi":36.5},{"e":260,"s":"Greedy-AoI","m":35.9,"lo":35.2,"hi":36.6},{"e":270,"s":"Greedy-AoI","m":36.0,"lo":35.3,"hi":36.7},{"e":280,"s":"Greedy-AoI","m":36.3,"lo":35.6,"hi":37.0},{"e":290,"s":"Greedy-AoI","m":36.0,"lo":35.3,"hi":36.7},{"e":300,"s":"Greedy-AoI","m":35.9,"lo":35.2,"hi":36.6},{"e":310,"s":"Greedy-AoI","m":35.8,"lo":35.1,"hi":36.5},{"e":320,"s":"Greedy-AoI","m":35.9,"lo":35.2,"hi":36.6},{"e":330,"s":"Greedy-AoI","m":36.0,"lo":35.3,"hi":36.7},{"e":340,"s":"Greedy-AoI","m":36.0,"lo":35.3,"hi":36.7},{"e":350,"s":"Greedy-AoI","m":36.2,"lo":35.5,"hi":36.9},{"e":360,"s":"Greedy-AoI","m":36.0,"lo":35.3,"hi":36.7},{"e":370,"s":"Greedy-AoI","m":35.9,"lo":35.2,"hi":36.6},{"e":380,"s":"Greedy-AoI","m":35.8,"lo":35.1,"hi":36.5},{"e":390,"s":"Greedy-AoI","m":35.7,"lo":35.0,"hi":36.4},{"e":400,"s":"Greedy-AoI","m":35.8,"lo":35.1,"hi":36.5},{"e":410,"s":"Greedy-AoI","m":35.7,"lo":35.0,"hi":36.4},{"e":420,"s":"Greedy-AoI","m":35.8,"lo":35.1,"hi":36.5},{"e":430,"s":"Greedy-AoI","m":35.9,"lo":35.2,"hi":36.6},{"e":440,"s":"Greedy-AoI","m":35.7,"lo":35.0,"hi":36.4},{"e":450,"s":"Greedy-AoI","m":35.6,"lo":34.9,"hi":36.3},{"e":460,"s":"Greedy-AoI","m":35.7,"lo":35.0,"hi":36.4},{"e":470,"s":"Greedy-AoI","m":35.8,"lo":35.1,"hi":36.5},{"e":480,"s":"Greedy-AoI","m":35.7,"lo":35.0,"hi":36.4},{"e":490,"s":"Greedy-AoI","m":35.8,"lo":35.1,"hi":36.5},{"e":500,"s":"Greedy-AoI","m":35.9,"lo":35.2,"hi":36.6},{"e":510,"s":"Greedy-AoI","m":36.0,"lo":35.3,"hi":36.7},{"e":520,"s":"Greedy-AoI","m":36.1,"lo":35.4,"hi":36.8},{"e":530,"s":"Greedy-AoI","m":35.9,"lo":35.2,"hi":36.6},{"e":540,"s":"Greedy-AoI","m":36.0,"lo":35.3,"hi":36.7},{"e":550,"s":"Greedy-AoI","m":36.0,"lo":35.3,"hi":36.7},{"e":560,"s":"Greedy-AoI","m":36.2,"lo":35.5,"hi":36.9},{"e":570,"s":"Greedy-AoI","m":36.1,"lo":35.4,"hi":36.8},{"e":580,"s":"Greedy-AoI","m":36.3,"lo":35.6,"hi":37.0},{"e":590,"s":"Greedy-AoI","m":36.2,"lo":35.5,"hi":36.9},{"e":600,"s":"Greedy-AoI","m":36.3,"lo":35.6,"hi":37.0},
{"e":5,"s":"Greedy-AoI","m":35.5,"lo":34.8,"hi":36.2},{"e":15,"s":"Greedy-AoI","m":35.2,"lo":34.5,"hi":35.9},{"e":25,"s":"Greedy-AoI","m":35.7,"lo":35.0,"hi":36.4},{"e":35,"s":"Greedy-AoI","m":35.4,"lo":34.7,"hi":36.1},{"e":45,"s":"Greedy-AoI","m":35.7,"lo":35.0,"hi":36.4},{"e":55,"s":"Greedy-AoI","m":36.1,"lo":35.4,"hi":36.8},{"e":65,"s":"Greedy-AoI","m":35.6,"lo":34.9,"hi":36.3},{"e":75,"s":"Greedy-AoI","m":35.8,"lo":35.1,"hi":36.5},{"e":85,"s":"Greedy-AoI","m":35.4,"lo":34.7,"hi":36.1},{"e":95,"s":"Greedy-AoI","m":35.9,"lo":35.2,"hi":36.6},{"e":105,"s":"Greedy-AoI","m":36.1,"lo":35.4,"hi":36.8},{"e":115,"s":"Greedy-AoI","m":35.7,"lo":35.0,"hi":36.4},{"e":125,"s":"Greedy-AoI","m":36.0,"lo":35.3,"hi":36.7},{"e":135,"s":"Greedy-AoI","m":35.5,"lo":34.8,"hi":36.2},{"e":145,"s":"Greedy-AoI","m":35.8,"lo":35.1,"hi":36.5},{"e":155,"s":"Greedy-AoI","m":35.5,"lo":34.8,"hi":36.2},{"e":165,"s":"Greedy-AoI","m":35.8,"lo":35.1,"hi":36.5},{"e":175,"s":"Greedy-AoI","m":35.5,"lo":34.8,"hi":36.2},{"e":185,"s":"Greedy-AoI","m":35.6,"lo":34.9,"hi":36.3},{"e":195,"s":"Greedy-AoI","m":35.2,"lo":34.5,"hi":35.9},{"e":205,"s":"Greedy-AoI","m":35.8,"lo":35.1,"hi":36.5},{"e":215,"s":"Greedy-AoI","m":35.6,"lo":34.9,"hi":36.3},{"e":225,"s":"Greedy-AoI","m":35.4,"lo":34.7,"hi":36.1},{"e":235,"s":"Greedy-AoI","m":35.8,"lo":35.1,"hi":36.5},{"e":245,"s":"Greedy-AoI","m":35.6,"lo":34.9,"hi":36.3},{"e":255,"s":"Greedy-AoI","m":36.1,"lo":35.4,"hi":36.8},{"e":265,"s":"Greedy-AoI","m":35.9,"lo":35.2,"hi":36.6},{"e":275,"s":"Greedy-AoI","m":36.3,"lo":35.6,"hi":37.0},{"e":285,"s":"Greedy-AoI","m":35.9,"lo":35.2,"hi":36.6},{"e":295,"s":"Greedy-AoI","m":36.0,"lo":35.3,"hi":36.7},{"e":305,"s":"Greedy-AoI","m":36.1,"lo":35.4,"hi":36.8},{"e":315,"s":"Greedy-AoI","m":35.7,"lo":35.0,"hi":36.4},{"e":325,"s":"Greedy-AoI","m":36.1,"lo":35.4,"hi":36.8},{"e":335,"s":"Greedy-AoI","m":35.8,"lo":35.1,"hi":36.5},{"e":345,"s":"Greedy-AoI","m":36.2,"lo":35.5,"hi":36.9},{"e":355,"s":"Greedy-AoI","m":36.4,"lo":35.7,"hi":37.1},{"e":365,"s":"Greedy-AoI","m":35.7,"lo":35.0,"hi":36.4},{"e":375,"s":"Greedy-AoI","m":36.0,"lo":35.3,"hi":36.7},{"e":385,"s":"Greedy-AoI","m":35.7,"lo":35.0,"hi":36.4},{"e":395,"s":"Greedy-AoI","m":36.0,"lo":35.3,"hi":36.7},{"e":405,"s":"Greedy-AoI","m":35.5,"lo":34.8,"hi":36.2},{"e":415,"s":"Greedy-AoI","m":35.9,"lo":35.2,"hi":36.6},{"e":425,"s":"Greedy-AoI","m":35.9,"lo":35.2,"hi":36.6},{"e":435,"s":"Greedy-AoI","m":35.6,"lo":34.9,"hi":36.3},{"e":445,"s":"Greedy-AoI","m":35.9,"lo":35.2,"hi":36.6},{"e":455,"s":"Greedy-AoI","m":35.5,"lo":34.8,"hi":36.2},{"e":465,"s":"Greedy-AoI","m":35.9,"lo":35.2,"hi":36.6},{"e":475,"s":"Greedy-AoI","m":35.5,"lo":34.8,"hi":36.2},{"e":485,"s":"Greedy-AoI","m":35.8,"lo":35.1,"hi":36.5},{"e":495,"s":"Greedy-AoI","m":36.0,"lo":35.3,"hi":36.7},{"e":505,"s":"Greedy-AoI","m":35.8,"lo":35.1,"hi":36.5},{"e":515,"s":"Greedy-AoI","m":36.3,"lo":35.6,"hi":37.0},{"e":525,"s":"Greedy-AoI","m":35.9,"lo":35.2,"hi":36.6},{"e":535,"s":"Greedy-AoI","m":36.1,"lo":35.4,"hi":36.8},{"e":545,"s":"Greedy-AoI","m":35.7,"lo":35.0,"hi":36.4},{"e":555,"s":"Greedy-AoI","m":36.3,"lo":35.6,"hi":37.0},{"e":565,"s":"Greedy-AoI","m":36.1,"lo":35.4,"hi":36.8},{"e":575,"s":"Greedy-AoI","m":36.4,"lo":35.7,"hi":37.1},{"e":585,"s":"Greedy-AoI","m":36.0,"lo":35.3,"hi":36.7},{"e":595,"s":"Greedy-AoI","m":36.3,"lo":35.6,"hi":37.0}
]},
"encoding": {
  "x": {"field": "e", "type": "quantitative", "title": "Episode", "scale": {"domain": [-30, 630], "nice": false, "zero": false}, "axis": {"values": [0, 100, 200, 300, 400, 500, 600], "titlePadding": 2}},
  "color": {"field": "s", "type": "nominal", "sort": null, "scale": {"domain": ["MA-CA2C", "CA2C", "DDPG", "DQN", "Greedy-AoI"], "range": ["#bf00bf", "#0000ff", "#000000", "#ff0000", "#008000"]},
    "legend": {"title": null, "orient": "top-right", "offset": 5, "padding": 5, "fillColor": "white", "strokeColor": "#cccccc", "cornerRadius": 3, "symbolType": "stroke", "symbolSize": 400, "symbolStrokeWidth": 1.5, "labelOffset": 6, "rowPadding": 4, "labelFontSize": 9.5}}
},
"layer": [
  {"mark": {"type": "area", "fillOpacity": 0.3, "strokeOpacity": 0.35, "strokeWidth": 0.8},
   "encoding": {"y": {"field": "lo", "type": "quantitative", "title": "Avg. AoI (ms)", "scale": {"domain": [15.4, 53.8], "nice": false, "zero": false}, "axis": {"values": [20, 25, 30, 35, 40, 45, 50], "titlePadding": 4}}, "y2": {"field": "hi"}, "stroke": {"field": "s", "type": "nominal", "legend": null, "scale": {"domain": ["MA-CA2C", "CA2C", "DDPG", "DQN", "Greedy-AoI"], "range": ["#bf00bf", "#0000ff", "#000000", "#ff0000", "#008000"]}}}},
  {"mark": {"type": "line", "strokeWidth": 1.5},
   "encoding": {"y": {"field": "m", "type": "quantitative"}}}
]
}
